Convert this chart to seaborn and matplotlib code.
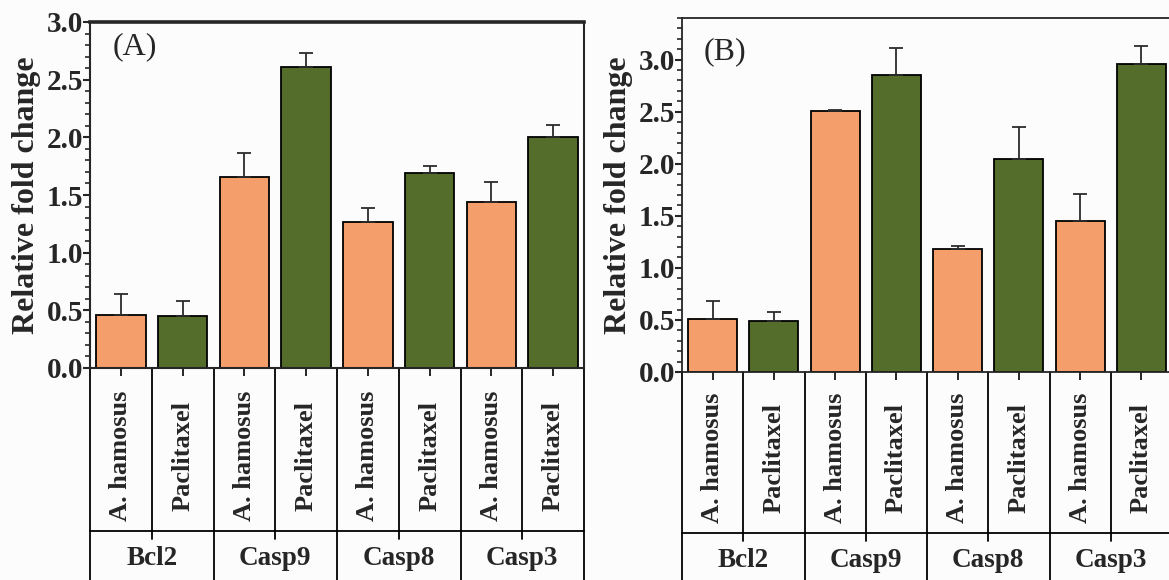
import numpy as np
import pandas as pd
import seaborn as sns
import matplotlib.pyplot as plt
from matplotlib import transforms
from matplotlib.ticker import MultipleLocator

genes = ['Bcl2', 'Casp9', 'Casp8', 'Casp3']
treatments = ['A. hamosus', 'Paclitaxel']

# panel (A): bar heights and upper error (sd)
hamosus_A = [0.46, 1.66, 1.27, 1.44]
hamosus_A_err = [0.18, 0.20, 0.12, 0.17]
paclitaxel_A = [0.45, 2.61, 1.69, 2.00]
paclitaxel_A_err = [0.13, 0.12, 0.06, 0.11]

# panel (B)
hamosus_B = [0.51, 2.51, 1.18, 1.45]
hamosus_B_err = [0.17, 0.01, 0.03, 0.26]
paclitaxel_B = [0.49, 2.85, 2.05, 2.96]
paclitaxel_B_err = [0.09, 0.26, 0.30, 0.17]

colors = {'A. hamosus': '#F39E6B', 'Paclitaxel': '#546D2B'}


def build_frame(ham, ham_err, pac, pac_err):
    rows = []
    for g, m1, e1, m2, e2 in zip(genes, ham, ham_err, pac, pac_err):
        rows.append({'slot': g + '|' + treatments[0], 'gene': g,
                     'treatment': treatments[0], 'value': m1, 'err': e1})
        rows.append({'slot': g + '|' + treatments[1], 'gene': g,
                     'treatment': treatments[1], 'value': m2, 'err': e2})
    return pd.DataFrame(rows)


def draw_panel(fig, ax, df, ymax, tag, tag_pos, line_y, spine_w, top_w):
    n = len(df)
    xs = np.arange(n)
    sns.barplot(data=df, x='slot', y='value', hue='treatment', order=list(df['slot']),
                palette=colors, saturation=1, dodge=False, width=0.8,
                edgecolor='black', linewidth=1.3, legend=False, ax=ax)
    ax.errorbar(xs, df['value'], yerr=[np.zeros(n), df['err']], fmt='none',
                ecolor='#2b2b2b', elinewidth=1.3, capsize=5, capthick=1.3, zorder=3)

    ax.set_xlim(-0.5, n - 0.5)
    ax.set_ylim(0, ymax)
    ax.yaxis.set_major_locator(MultipleLocator(0.5))
    ax.yaxis.set_minor_locator(MultipleLocator(0.1))
    ax.tick_params(axis='y', which='major', length=5, width=1.5, direction='out',
                   labelsize=21, pad=0)
    ax.tick_params(axis='y', which='minor', length=3.5, width=1.2, direction='out')
    ax.tick_params(axis='x', length=6, width=1.4, direction='out', labelbottom=False)
    for lab in ax.get_yticklabels():
        lab.set_fontweight('bold')
    ax.set_xlabel('')
    ax.set_ylabel('Relative fold change', fontsize=23, fontweight='bold', labelpad=4)

    for side in ['left', 'bottom', 'right']:
        ax.spines[side].set_visible(True)
        ax.spines[side].set_linewidth(spine_w)
    ax.spines['top'].set_visible(True)
    ax.spines['top'].set_linewidth(top_w)

    ax.text(tag_pos[0], tag_pos[1], tag, transform=ax.transAxes, fontsize=23,
            ha='center', va='center')

    # table-like category axis below the plot
    trans = transforms.blended_transform_factory(ax.transData, fig.transFigure)
    y_axis = ax.get_position().y0
    kw = dict(transform=trans, clip_on=False, color='black', lw=1.3)
    ax.plot([-0.5, n - 0.5], [line_y, line_y], **kw)
    for b in np.arange(-0.5, n, 1.0):
        if int(b + 0.5) % 2 == 0:
            ax.plot([b, b], [y_axis, 0], **kw)
        else:
            ax.plot([b, b], [y_axis, line_y - 0.014], **kw)
    for i, t in enumerate(df['treatment']):
        ax.text(i, line_y + 0.13, t, transform=trans, rotation=90, fontsize=19,
                fontweight='bold', ha='center', va='center')
    for k, g in enumerate(genes):
        ax.text(2 * k + 0.5, line_y - 0.048, g, transform=trans, fontsize=19.5,
                fontweight='bold', ha='center', va='center')
    ax.set_xlim(-0.5, n - 0.5)
    ax.set_ylim(0, ymax)


sns.set_style('ticks')
plt.rcParams['font.family'] = ['Liberation Serif', 'DejaVu Serif']

fig = plt.figure(figsize=(11.69, 5.80), dpi=100)
fig.patch.set_facecolor('#fcfcfc')
axA = fig.add_axes([90 / 1169, 1 - 368 / 580, 494 / 1169, 346 / 580])
axB = fig.add_axes([682 / 1169, 1 - 372 / 580, 490 / 1169, 354 / 580])
for ax in (axA, axB):
    ax.set_facecolor('#fcfcfc')

df_A = build_frame(hamosus_A, hamosus_A_err, paclitaxel_A, paclitaxel_A_err)
df_B = build_frame(hamosus_B, hamosus_B_err, paclitaxel_B, paclitaxel_B_err)

draw_panel(fig, axA, df_A, 3.0, '(A)', (0.091, 0.93), 1 - 531 / 580, 1.5, 2.6)
draw_panel(fig, axB, df_B, 3.4, '(B)', (0.088, 0.905), 1 - 533 / 580, 1.3, 1.3)

fig.savefig('out.png', dpi=100, facecolor=fig.get_facecolor())
